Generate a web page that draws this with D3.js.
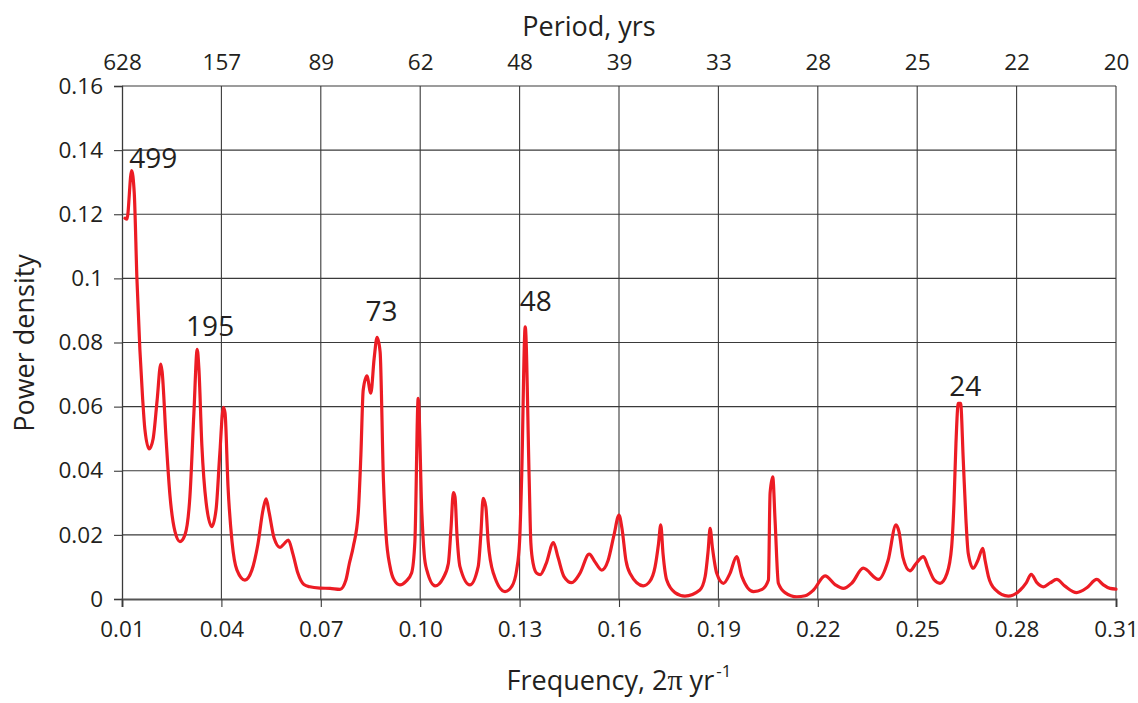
<!DOCTYPE html>
<html>
<head>
<meta charset="utf-8">
<script src="https://cdn.jsdelivr.net/npm/d3@7"></script>
<style>
  html, body { margin: 0; padding: 0; background: #ffffff; }
  svg { display: block; }
  text { font-family: "Open Sans", "Noto Sans", sans-serif; fill: #231f20; }
</style>
</head>
<body>
<svg id="chart" width="1138" height="703"></svg>
<script>
// ---------- data ----------
const frequency = [
  0.0109, 0.0115, 0.0129, 0.0137, 0.0145, 0.0154, 0.0162, 0.0169, 0.0182, 0.0194,
  0.0206, 0.0217, 0.0221, 0.0233, 0.0245, 0.0260, 0.0275, 0.0290, 0.0305, 0.0317,
  0.0327, 0.0332, 0.0341, 0.0354, 0.0371, 0.0384, 0.0395, 0.0406, 0.0411, 0.0420,
  0.0432, 0.0447, 0.0471, 0.0492, 0.0510, 0.0526, 0.0535, 0.0544, 0.0559, 0.0577,
  0.0589, 0.0602, 0.0616, 0.0631, 0.0649, 0.0667, 0.0698, 0.0728, 0.0758, 0.0776,
  0.0786, 0.0798, 0.0813, 0.0821, 0.0828, 0.0839, 0.0851, 0.0861, 0.0870, 0.0879,
  0.0889, 0.0897, 0.0909, 0.0921, 0.0939, 0.0957, 0.0974, 0.0984, 0.0994, 0.1005,
  0.1012, 0.1020, 0.1045, 0.1069, 0.1085, 0.1093, 0.1100, 0.1105, 0.1111, 0.1120,
  0.1150, 0.1175, 0.1183, 0.1190, 0.1198, 0.1205, 0.1221, 0.1256, 0.1277, 0.1291,
  0.1300, 0.1306, 0.1317, 0.1329, 0.1334, 0.1341, 0.1352, 0.1362, 0.1380, 0.1402,
  0.1416, 0.1434, 0.1457, 0.1482, 0.1510, 0.1528, 0.1548, 0.1567, 0.1585, 0.1600,
  0.1609, 0.1621, 0.1633, 0.1673, 0.1693, 0.1709, 0.1719, 0.1726, 0.1733, 0.1744,
  0.1769, 0.1799, 0.1844, 0.1860, 0.1869, 0.1875, 0.1882, 0.1895, 0.1915, 0.1935,
  0.1955, 0.1971, 0.2006, 0.2032, 0.2051, 0.2056, 0.2064, 0.2071, 0.2081, 0.2101,
  0.2137, 0.2162, 0.2187, 0.2222, 0.2252, 0.2277, 0.2303, 0.2337, 0.2383, 0.2412,
  0.2436, 0.2445, 0.2457, 0.2478, 0.2496, 0.2519, 0.2533, 0.2551, 0.2569, 0.2590,
  0.2604, 0.2611, 0.2617, 0.2624, 0.2631, 0.2639, 0.2647, 0.2654, 0.2669, 0.2683,
  0.2698, 0.2705, 0.2715, 0.2735, 0.2775, 0.2811, 0.2829, 0.2844, 0.2862, 0.2881,
  0.2901, 0.2921, 0.2946, 0.2981, 0.3012, 0.3042, 0.3061, 0.3082, 0.3100
];
const powerDensity = [
  0.1188, 0.1185, 0.1336, 0.1266, 0.1000, 0.0777, 0.0630, 0.0530, 0.0468, 0.0500,
  0.0620, 0.0733, 0.0710, 0.0500, 0.0320, 0.0210, 0.0179, 0.0200, 0.0320, 0.0580,
  0.0779, 0.0720, 0.0480, 0.0300, 0.0226, 0.0280, 0.0450, 0.0598, 0.0580, 0.0350,
  0.0180, 0.0090, 0.0059, 0.0090, 0.0170, 0.0280, 0.0312, 0.0270, 0.0190, 0.0161,
  0.0172, 0.0184, 0.0140, 0.0080, 0.0045, 0.0038, 0.0034, 0.0033, 0.0030, 0.0060,
  0.0110, 0.0163, 0.0268, 0.0450, 0.0652, 0.0696, 0.0642, 0.0750, 0.0816, 0.0771,
  0.0371, 0.0200, 0.0101, 0.0060, 0.0044, 0.0055, 0.0081, 0.0180, 0.0626, 0.0267,
  0.0140, 0.0090, 0.0041, 0.0065, 0.0111, 0.0220, 0.0332, 0.0319, 0.0200, 0.0101,
  0.0044, 0.0101, 0.0200, 0.0314, 0.0288, 0.0180, 0.0080, 0.0023, 0.0040, 0.0090,
  0.0180, 0.0371, 0.0849, 0.0371, 0.0174, 0.0110, 0.0080, 0.0076, 0.0110, 0.0176,
  0.0130, 0.0070, 0.0051, 0.0080, 0.0140, 0.0115, 0.0090, 0.0120, 0.0200, 0.0262,
  0.0220, 0.0120, 0.0080, 0.0041, 0.0055, 0.0101, 0.0170, 0.0231, 0.0140, 0.0059,
  0.0020, 0.0009, 0.0028, 0.0070, 0.0150, 0.0220, 0.0160, 0.0080, 0.0049, 0.0080,
  0.0132, 0.0070, 0.0023, 0.0030, 0.0059, 0.0330, 0.0381, 0.0246, 0.0049, 0.0020,
  0.0007, 0.0010, 0.0028, 0.0072, 0.0045, 0.0033, 0.0050, 0.0096, 0.0061, 0.0120,
  0.0231, 0.0210, 0.0130, 0.0088, 0.0110, 0.0132, 0.0100, 0.0060, 0.0049, 0.0080,
  0.0163, 0.0300, 0.0486, 0.0610, 0.0610, 0.0434, 0.0250, 0.0143, 0.0096, 0.0120,
  0.0158, 0.0120, 0.0070, 0.0030, 0.0009, 0.0028, 0.0050, 0.0077, 0.0050, 0.0038,
  0.0050, 0.0061, 0.0040, 0.0020, 0.0035, 0.0061, 0.0045, 0.0033, 0.0031
];
const freqTicks = [0.01, 0.04, 0.07, 0.10, 0.13, 0.16, 0.19, 0.22, 0.25, 0.28, 0.31];
const periodTickLabels = ["628", "157", "89", "62", "48", "39", "33", "28", "25", "22", "20"];
const powerTicks = [0, 0.02, 0.04, 0.06, 0.08, 0.1, 0.12, 0.14, 0.16];
const powerTickLabels = ["0", "0.02", "0.04", "0.06", "0.08", "0.1", "0.12", "0.14", "0.16"];
const peakLabels = ["499", "195", "73", "48", "24"];
const peakLabelFreq = [0.0194, 0.0366, 0.0883, 0.1349, 0.2645];
const peakLabelPower = [0.1345, 0.0820, 0.0868, 0.0898, 0.0633];

// ---------- layout ----------
const svg = d3.select("#chart");
const plotLeft = 122, plotRight = 1116, plotTop = 86, plotBottom = 599;

const x = d3.scaleLinear().domain([0.01, 0.31]).range([plotLeft, plotRight]);
const y = d3.scaleLinear().domain([0, 0.16]).range([plotBottom, plotTop]);

const gridColor = "#3a3a3a";

// horizontal grid
svg.append("g").selectAll("line").data(powerTicks.filter(d => d > 0)).join("line")
  .attr("x1", plotLeft).attr("x2", plotRight)
  .attr("y1", d => y(d)).attr("y2", d => y(d))
  .attr("stroke", gridColor).attr("stroke-width", 1.1);

// vertical grid
svg.append("g").selectAll("line").data(freqTicks.slice(1)).join("line")
  .attr("x1", d => x(d)).attr("x2", d => x(d))
  .attr("y1", plotTop).attr("y2", plotBottom)
  .attr("stroke", gridColor).attr("stroke-width", 1.1);

// left axis
const yAxis = d3.axisLeft(y).tickValues(powerTicks)
  .tickFormat((d, i) => powerTickLabels[i]).tickSize(8).tickPadding(11);
const gy = svg.append("g").attr("transform", `translate(${plotLeft},0)`).call(yAxis);
gy.select(".domain").attr("stroke", gridColor).attr("stroke-width", 1.3);
gy.selectAll(".tick line").attr("stroke", gridColor).attr("stroke-width", 1.1);
gy.selectAll(".tick text").attr("font-size", 22.5).attr("fill", "#231f20")
  .style("font-family", "'Open Sans', sans-serif");

// bottom axis
const xAxis = d3.axisBottom(x).tickValues(freqTicks)
  .tickFormat(d3.format(".2f")).tickSize(8).tickPadding(14);
const gx = svg.append("g").attr("transform", `translate(0,${plotBottom})`).call(xAxis);
gx.select(".domain").attr("stroke", "#555").attr("stroke-width", 2);
gx.selectAll(".tick line").attr("stroke", gridColor).attr("stroke-width", 1.1);
gx.selectAll(".tick text").attr("font-size", 22.5).attr("fill", "#231f20")
  .style("font-family", "'Open Sans', sans-serif");

// top axis (period labels)
const xTop = d3.axisTop(x).tickValues(freqTicks)
  .tickFormat((d, i) => periodTickLabels[i]).tickSize(0).tickPadding(16);
const gt = svg.append("g").attr("transform", `translate(0,${plotTop})`).call(xTop);
gt.select(".domain").remove();
gt.selectAll(".tick text").attr("font-size", 22.5).attr("fill", "#231f20")
  .style("font-family", "'Open Sans', sans-serif");

// the curve
const pts = frequency.map((f, i) => [f, powerDensity[i]]);
const line = d3.line().x(d => x(d[0])).y(d => y(d[1])).curve(d3.curveMonotoneX);
svg.append("path").datum(pts)
  .attr("d", line)
  .attr("fill", "none")
  .attr("stroke", "#ec1c24")
  .attr("stroke-width", 3.2)
  .attr("stroke-linejoin", "round")
  .attr("stroke-linecap", "round");

// peak labels
svg.append("g").selectAll("text").data(peakLabels).join("text")
  .attr("x", (d, i) => x(peakLabelFreq[i]))
  .attr("y", (d, i) => y(peakLabelPower[i]))
  .attr("text-anchor", "middle")
  .attr("font-size", 28)
  .text(d => d);

// axis titles
svg.append("text")
  .attr("x", 589).attr("y", 36)
  .attr("text-anchor", "middle").attr("font-size", 27)
  .text("Period, yrs");

const xt = svg.append("text")
  .attr("x", 619).attr("y", 690)
  .attr("text-anchor", "middle").attr("font-size", 27);
xt.append("tspan").text("Frequency, 2");
xt.append("tspan").style("font-family", "'Liberation Serif', serif").attr("font-size", 30).text("\u03C0");
xt.append("tspan").text(" yr");
xt.append("tspan").attr("dy", -13).attr("dx", 2).attr("font-size", 17).text("-1");

svg.append("text")
  .attr("transform", "translate(34,343) rotate(-90)")
  .attr("text-anchor", "middle").attr("font-size", 27)
  .text("Power density");
</script>
</body>
</html>
